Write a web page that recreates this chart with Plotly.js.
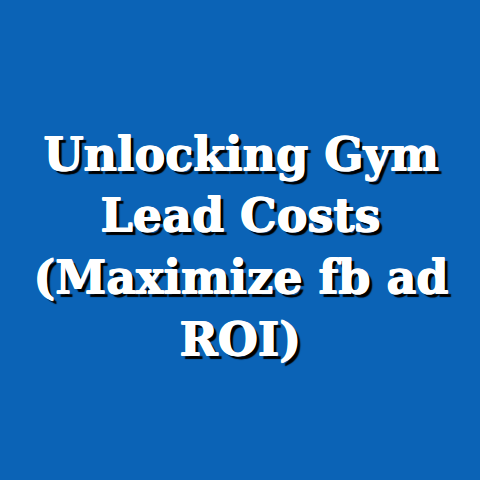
<!DOCTYPE html>
<html>
<head>
<meta charset="utf-8">
<script src="https://cdn.plot.ly/plotly-3.0.1.min.js"></script>
<style>html,body{margin:0;padding:0;background:#0b63b6;}#chart{width:480px;height:480px;}</style>
</head>
<body>
<div id="chart"></div>
<script>
// Title lines of the card
var titleLines = ["Unlocking Gym", "Lead Costs", "(Maximize fb ad", "ROI)"];
// vertical centres of each line (pixels from top)
var lineCenters = [154, 215, 277, 339];

var annotations = titleLines.map(function (t, i) {
  return {
    text: t,
    xref: "paper", yref: "paper",
    x: 0.5, y: 1 - lineCenters[i] / 480,
    xanchor: "center", yanchor: "middle",
    showarrow: false,
    font: {
      family: "DejaVu Serif",
      weight: 700,
      size: 46,
      color: "#ffffff",
      shadow: "1px 0 0 #ffffff, 0 1px 0 #ffffff, 1px 1px 0 #ffffff, 4px 4px 1px #000000"
    }
  };
});

var layout = {
  width: 480, height: 480,
  margin: {l: 0, r: 0, t: 0, b: 0},
  paper_bgcolor: "#0b63b6",
  plot_bgcolor: "#0b63b6",
  xaxis: {visible: false, range: [0, 1]},
  yaxis: {visible: false, range: [0, 1]},
  showlegend: false,
  annotations: annotations
};

Plotly.newPlot("chart", [], layout, {displayModeBar: false, staticPlot: true});
</script>
</body>
</html>
